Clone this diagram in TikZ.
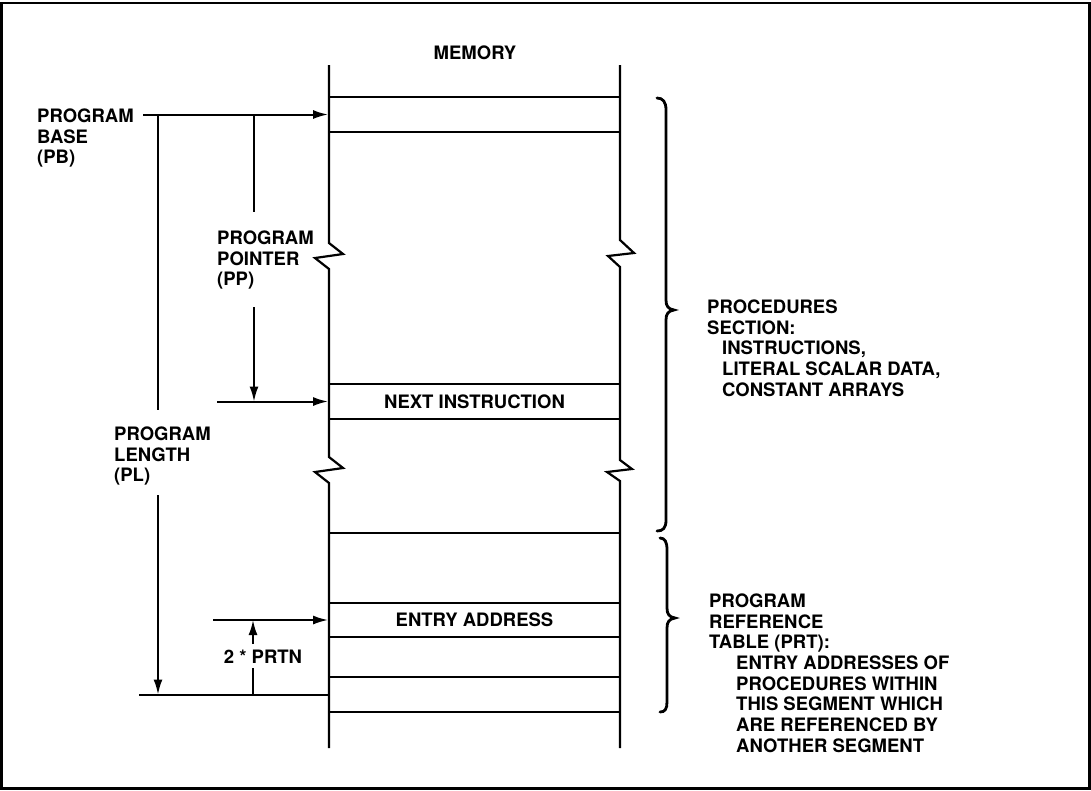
\documentclass[tikz,border=0pt]{standalone}
\usepackage{fontspec}
\setmainfont{TeX Gyre Heros}
\usetikzlibrary{arrows.meta}
\begin{document}
\begin{tikzpicture}[x=1pt,y=-1pt,
  txt/.style={font=\bfseries\fontsize{18.5}{20.7}\selectfont, inner sep=0pt},
  lbl/.style={txt, align=left, anchor=north west},
  slot/.style={draw, line width=1.8pt, minimum width=291pt, inner sep=0pt, txt},
  mem/.style={line width=2.2pt, line join=miter},
  arr/.style={line width=2pt, -{Latex[length=15pt,width=9pt]}},
  dim/.style={line width=2pt},
  brace/.style={line width=2.8pt, line cap=round}
]
\useasboundingbox (0,0) rectangle (1091,790);
\draw[line width=2.5pt] (1.5,3) rectangle (1089.5,788.5);

% memory slots
\node[slot, minimum height=35pt] (pbslot) at (474.5,114.5) {};
\node[slot, minimum height=35pt] (nextslot) at (474.5,401.5) {NEXT INSTRUCTION};
\node[slot, minimum height=70pt] (prtslot) at (474.5,568) {};
\node[slot, minimum height=34pt] (entryslot) at (474.5,620) {ENTRY ADDRESS};
\node[slot, minimum height=40pt] (slotc) at (474.5,657) {};
\node[slot, minimum height=35pt] (slotd) at (474.5,694.5) {};

% memory column with breaks
\draw[mem] (329,65) -- (329,243) -- (343,254) -- (315,258) -- (329,269) -- (329,457) -- (343,468) -- (315,472) -- (329,483) -- (329,748);
\draw[mem] (620,65) -- (620,240) -- (634,253) -- (608,256) -- (620,267) -- (620,460) -- (632,469) -- (607,472) -- (620,481) -- (620,748);

\node[txt] (memory) at (475,53) {MEMORY};

% left labels
\node[lbl] (pb) at (37,108.5) {PROGRAM\\BASE\\(PB)};
\node[lbl] (pp) at (217,230.5) {PROGRAM\\POINTER\\(PP)};
\node[lbl] (pl) at (114,426.5) {PROGRAM\\LENGTH\\(PL)};
\node[txt] (prtn) at (263,657) {2 * PRTN};

% arrows into memory
\coordinate (pbstart) at (143,114.5);
\coordinate (nistart) at (217,401.5);
\coordinate (enstart) at (213,620);
\coordinate (blstart) at (139,694.5);
\draw[arr] (pbstart) -- (pbslot.west);
\draw[arr] (nistart) -- (nextslot.west);
\draw[arr] (enstart) -- (entryslot.west);
\draw[dim] (blstart) -- (slotd.west);

% program length dimension
\coordinate (plTop) at (158,114.5);
\coordinate (plA) at (158,410);
\coordinate (plB) at (158,495);
\coordinate (plBot) at (158,694.5);
\draw[dim] (plTop) -- (plA);
\draw[arr] (plB) -- (plBot);

% program pointer dimension
\coordinate (ppTop) at (254,114.5);
\coordinate (ppA) at (254,212);
\coordinate (ppB) at (254,307);
\coordinate (ppBot) at (254,401.5);
\draw[dim] (ppTop) -- (ppA);
\draw[arr] (ppB) -- (ppBot);

% 2*PRTN dimension
\coordinate (prBot) at (253,694.5);
\coordinate (prA) at (253,668);
\coordinate (prB) at (253,644);
\coordinate (prTop) at (253,620);
\draw[dim] (prBot) -- (prA);
\draw[arr] (prB) -- (prTop);

% braces
\draw[brace] (657,98) .. controls (663,98) and (666,102) .. (666,110) -- (666,300)
  .. controls (666,306) and (668,309) .. (674,310)
  .. controls (668,311) and (666,314) .. (666,320) -- (666,520)
  .. controls (666,528) and (663,531) .. (657,531);
\draw[brace] (660,538) .. controls (665,538) and (667,542) .. (667,550) -- (667,608)
  .. controls (667,614) and (669,617) .. (675,618)
  .. controls (669,619) and (667,622) .. (667,628) -- (667,702)
  .. controls (667,709) and (665,712) .. (660,712);

% right labels
\node[lbl] (proc) at (707,299.5) {PROCEDURES\\SECTION:\\\hspace*{15pt}INSTRUCTIONS,\\\hspace*{15pt}LITERAL SCALAR DATA,\\\hspace*{15pt}CONSTANT ARRAYS};
\node[lbl] (prt) at (709,593.5) {PROGRAM\\REFERENCE\\TABLE (PRT):\\\hspace*{27pt}ENTRY ADDRESSES OF\\\hspace*{27pt}PROCEDURES WITHIN\\\hspace*{27pt}THIS SEGMENT WHICH\\\hspace*{27pt}ARE REFERENCED BY\\\hspace*{27pt}ANOTHER SEGMENT};
\end{tikzpicture}
\end{document}
